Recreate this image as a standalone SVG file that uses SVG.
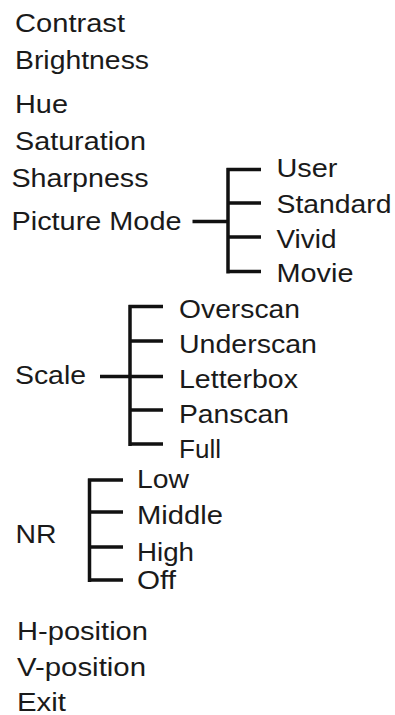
<svg xmlns="http://www.w3.org/2000/svg" width="395" height="715" viewBox="0 0 395 715">
<style>
text{font-family:"Liberation Sans",Arial,sans-serif;font-size:25.5px;fill:#1a1a1a}
.c{stroke:#111;stroke-width:3.5;fill:none;stroke-linecap:butt}
</style>
<rect width="395" height="715" fill="#fff"/>
<g id="contrast"><text x="15" y="32" textLength="110" lengthAdjust="spacingAndGlyphs">Contrast</text></g>
<g id="brightness"><text x="15" y="68.5" textLength="134" lengthAdjust="spacingAndGlyphs">Brightness</text></g>
<g id="hue"><text x="15" y="112.5" textLength="53" lengthAdjust="spacingAndGlyphs">Hue</text></g>
<g id="saturation"><text x="15" y="150" textLength="131" lengthAdjust="spacingAndGlyphs">Saturation</text></g>
<g id="sharpness"><text x="11.5" y="187" textLength="137" lengthAdjust="spacingAndGlyphs">Sharpness</text></g>
<g id="picture-mode"><text x="11.5" y="229.5" textLength="170" lengthAdjust="spacingAndGlyphs">Picture Mode</text></g>
<g id="user"><text x="276.5" y="176.5" textLength="61" lengthAdjust="spacingAndGlyphs">User</text></g>
<g id="standard"><text x="276.5" y="213" textLength="115" lengthAdjust="spacingAndGlyphs">Standard</text></g>
<g id="vivid"><text x="276.5" y="247.5" textLength="60" lengthAdjust="spacingAndGlyphs">Vivid</text></g>
<g id="movie"><text x="276.5" y="282" textLength="77" lengthAdjust="spacingAndGlyphs">Movie</text></g>
<g id="scale"><text x="15" y="384" textLength="71" lengthAdjust="spacingAndGlyphs">Scale</text></g>
<g id="overscan"><text x="179" y="318" textLength="121" lengthAdjust="spacingAndGlyphs">Overscan</text></g>
<g id="underscan"><text x="179" y="353" textLength="138" lengthAdjust="spacingAndGlyphs">Underscan</text></g>
<g id="letterbox"><text x="179" y="388" textLength="119" lengthAdjust="spacingAndGlyphs">Letterbox</text></g>
<g id="panscan"><text x="179" y="423" textLength="110" lengthAdjust="spacingAndGlyphs">Panscan</text></g>
<g id="full"><text x="179" y="458" textLength="42" lengthAdjust="spacingAndGlyphs">Full</text></g>
<g id="nr"><text x="15.5" y="542.5" textLength="41" lengthAdjust="spacingAndGlyphs">NR</text></g>
<g id="low"><text x="137" y="487.5" textLength="52" lengthAdjust="spacingAndGlyphs">Low</text></g>
<g id="middle"><text x="137" y="524" textLength="86" lengthAdjust="spacingAndGlyphs">Middle</text></g>
<g id="high"><text x="137" y="560.5" textLength="57" lengthAdjust="spacingAndGlyphs">High</text></g>
<g id="off"><text x="137" y="589" textLength="39" lengthAdjust="spacingAndGlyphs">Off</text></g>
<g id="h-position"><text x="17" y="639.5" textLength="131" lengthAdjust="spacingAndGlyphs">H-position</text></g>
<g id="v-position"><text x="17" y="676" textLength="129" lengthAdjust="spacingAndGlyphs">V-position</text></g>
<g id="exit"><text x="17" y="711" textLength="49" lengthAdjust="spacingAndGlyphs">Exit</text></g>
<g id="connectors" class="c">
<path d="M192.5 221.5H228M228 168V273.5M226.5 169.5H261M226.5 203H261M226.5 237H261M226.5 271.5H261"/>
<path d="M100 376.5H163M130 305V446M128.5 306.5H163M128.5 341H163M128.5 376.5H163M128.5 410H163M128.5 444H163"/>
<path d="M89.5 478.5V582M88 480H123M88 512H123M88 547H123M88 580H123"/>
</g>
</svg>
